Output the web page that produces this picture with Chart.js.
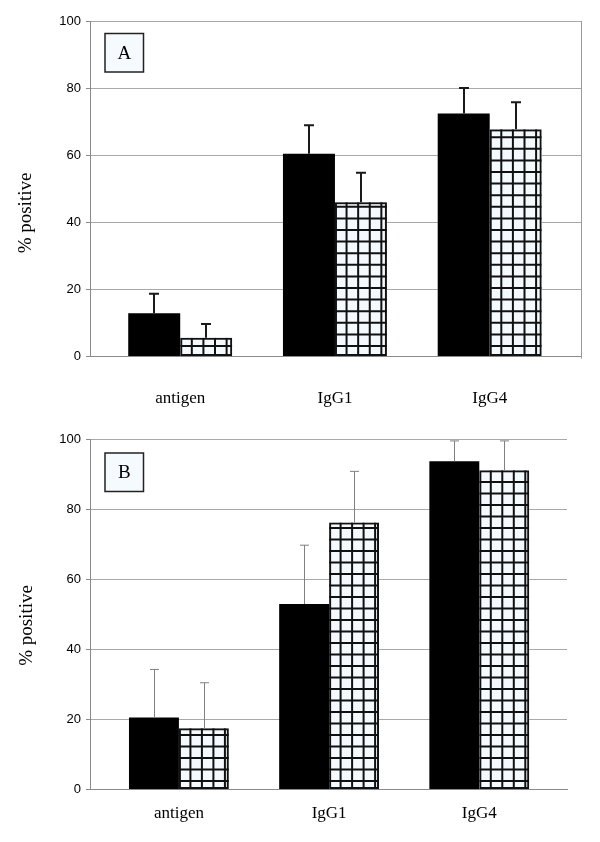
<!DOCTYPE html>
<html><head><meta charset="utf-8">
<script src="https://cdn.jsdelivr.net/npm/chart.js@4.4.1/dist/chart.umd.min.js"></script>
<style>
html,body{margin:0;padding:0;background:#fff;}
.wrap{position:absolute;left:0;width:600px;height:421px;}
#wa{top:0}
#wb{top:421px}
canvas{display:block}
</style></head><body>
<div class="wrap" id="wa"><canvas id="ca" width="600" height="421"></canvas></div>
<div class="wrap" id="wb"><canvas id="cb" width="600" height="421"></canvas></div>
<script>
// ---- data ----
const categories = ['antigen', 'IgG1', 'IgG4'];
const yTickStep = 20;
const yMax = 100;
const yTitle = '% positive';
const panelNames = ['A', 'B'];

const panelA_solid      = [12.9, 60.4, 72.4];
const panelA_solidErr   = [5.8, 8.5, 7.6];
const panelA_hatched    = [5.6, 46.0, 67.7];
const panelA_hatchedErr = [4.1, 8.8, 8.1];

const panelB_solid      = [20.6, 53.0, 93.8];
const panelB_solidErr   = [13.7, 16.8, 5.8];
const panelB_hatched    = [17.5, 76.3, 91.2];
const panelB_hatchedErr = [13.0, 14.6, 8.4];

// ---- helpers ----
const toXY = vals => vals.map((v, i) => ({ x: i, y: v }));

const decorPlugin = {
  id: 'decor',
  afterDatasetsDraw(chart) {
    const o = chart.options.plugins.decor;
    const ctx = chart.ctx;
    const ys = chart.scales.y;
    const ca = chart.chartArea;
    // hatched bars
    chart.data.datasets.forEach((ds, di) => {
      if (!ds.hatched) return;
      const meta = chart.getDatasetMeta(di);
      meta.data.forEach(el => {
        const p = el.getProps(['x', 'y', 'base', 'width'], true);
        const left = p.x - p.width / 2, right = p.x + p.width / 2;
        const top = Math.min(p.y, p.base), bottom = Math.max(p.y, p.base);
        ctx.save();
        ctx.beginPath();
        ctx.rect(left, top, right - left, bottom - top);
        ctx.clip();
        ctx.strokeStyle = '#111';
        ctx.lineWidth = 2;
        ctx.beginPath();
        for (let gx = left + o.cell; gx < right - 1; gx += o.cell) {
          ctx.moveTo(gx, top); ctx.lineTo(gx, bottom);
        }
        for (let gy = bottom - o.offY; gy > top + 1; gy -= o.cell) {
          ctx.moveTo(left, gy); ctx.lineTo(right, gy);
        }
        ctx.stroke();
        ctx.strokeRect(left + 1, top + 1, right - left - 2, bottom - top - 2);
        ctx.restore();
      });
    });
    // error bars
    chart.data.datasets.forEach((ds, di) => {
      if (!ds.errors) return;
      const meta = chart.getDatasetMeta(di);
      meta.data.forEach((el, j) => {
        const p = el.getProps(['x', 'y'], true);
        const yt = ys.getPixelForValue(ds.data[j].y + ds.errors[j]);
        ctx.save();
        ctx.strokeStyle = o.errColor;
        ctx.lineWidth = o.errWidth;
        ctx.beginPath();
        const xx = Math.round(p.x) + (o.errWidth % 2 ? 0.5 : 0);
        ctx.moveTo(xx, p.y); ctx.lineTo(xx, yt);
        ctx.moveTo(xx - o.cap, yt); ctx.lineTo(xx + o.cap, yt);
        ctx.stroke();
        ctx.restore();
      });
    });
    // right border
    if (o.rightBorder) {
      ctx.save();
      ctx.strokeStyle = '#9a9a9a';
      ctx.lineWidth = 1;
      ctx.beginPath();
      ctx.moveTo(Math.round(ca.right) + 0.5, ca.top);
      ctx.lineTo(Math.round(ca.right) + 0.5, ca.bottom + 2);
      ctx.stroke();
      ctx.restore();
    }
    // panel label box
    const b = o.box;
    ctx.save();
    ctx.fillStyle = '#f4fafd';
    ctx.fillRect(b.x, b.y, b.w, b.h);
    ctx.strokeStyle = '#222';
    ctx.lineWidth = 1.5;
    ctx.strokeRect(b.x, b.y, b.w, b.h);
    ctx.fillStyle = '#000';
    ctx.font = '19px "Liberation Serif"';
    ctx.textAlign = 'center';
    ctx.textBaseline = 'middle';
    ctx.fillText(o.name, b.x + b.w / 2, b.y + b.h / 2 + 1);
    ctx.restore();
    // y title
    ctx.save();
    ctx.translate(o.titleX, o.titleY);
    ctx.rotate(-Math.PI / 2);
    ctx.fillStyle = '#000';
    ctx.font = '19px "Liberation Serif"';
    ctx.textAlign = 'center';
    ctx.textBaseline = 'middle';
    ctx.fillText(yTitle, 0, 0);
    ctx.restore();
  }
};

function makeChart(canvasId, solid, solidErr, hatched, hatchedErr, cfg) {
  return new Chart(document.getElementById(canvasId), {
    type: 'bar',
    data: {
      datasets: [
        { data: toXY(solid), errors: solidErr, backgroundColor: '#000', borderWidth: 0 },
        { data: toXY(hatched), errors: hatchedErr, hatched: true, backgroundColor: '#f3f9fd', borderWidth: 0 }
      ]
    },
    options: {
      responsive: false,
      animation: false,
      devicePixelRatio: 1,
      layout: { padding: { left: 0, right: cfg.padRight, top: cfg.padTop, bottom: 0 } },
      datasets: { bar: { categoryPercentage: cfg.catPct, barPercentage: 1.0 } },
      plugins: {
        legend: { display: false },
        tooltip: { enabled: false },
        decor: {
          cell: cfg.cell, offY: cfg.offY, errColor: cfg.errColor, errWidth: cfg.errWidth, cap: cfg.cap,
          rightBorder: cfg.rightBorder, box: cfg.box, name: cfg.name,
          titleX: cfg.titleX, titleY: cfg.titleY
        }
      },
      scales: {
        x: {
          type: 'linear',
          offset: false,
          min: cfg.xMin, max: cfg.xMax,
          grid: { display: false, drawTicks: false },
          border: { display: true, color: '#8a8a8a', width: 1 },
          afterBuildTicks: s => { s.ticks = categories.map((c, i) => ({ value: i })); },
          afterFit: s => { s.height = cfg.xAxisH; },
          ticks: {
            autoSkip: false, maxRotation: 0, minRotation: 0,
            padding: cfg.xPad,
            color: '#000',
            font: { family: 'Liberation Serif', size: 17 },
            callback: v => categories[Math.round(v)]
          }
        },
        y: {
          min: 0, max: yMax,
          grid: { color: '#a8a8a8', lineWidth: 1, drawTicks: true, tickLength: 4, tickColor: '#8a8a8a' },
          border: { display: true, color: '#8a8a8a', width: 1 },
          afterFit: s => { s.width = cfg.yAxisW; },
          ticks: {
            stepSize: yTickStep, padding: 5, color: '#000',
            font: { family: 'Liberation Sans', size: 13 }
          }
        }
      }
    },
    plugins: [decorPlugin]
  });
}

makeChart('ca', panelA_solid, panelA_solidErr, panelA_hatched, panelA_hatchedErr, {
  padRight: 19, padTop: 21, yAxisW: 90, xAxisH: 421 - 356.5 - 0,
  xMin: -0.583, xMax: 2.590, catPct: 0.672, xPad: 32,
  cell: 11.6, offY: 10, errColor: '#1a1a1a', errWidth: 2, cap: 5,
  rightBorder: true, box: { x: 105, y: 33.5, w: 38.5, h: 38.5 }, name: panelNames[0],
  titleX: 26.5, titleY: 213
});

makeChart('cb', panelB_solid, panelB_solidErr, panelB_hatched, panelB_hatchedErr, {
  padRight: 33, padTop: 18.5, yAxisW: 90, xAxisH: 421 - 368.5,
  xMin: -0.592, xMax: 2.584, catPct: 0.665, xPad: 14,
  cell: 11.5, offY: 8, errColor: '#808080', errWidth: 1, cap: 4.5,
  rightBorder: false, box: { x: 105, y: 32, w: 38.5, h: 38.5 }, name: panelNames[1],
  titleX: 27, titleY: 204.5
});
</script>
</body></html>
